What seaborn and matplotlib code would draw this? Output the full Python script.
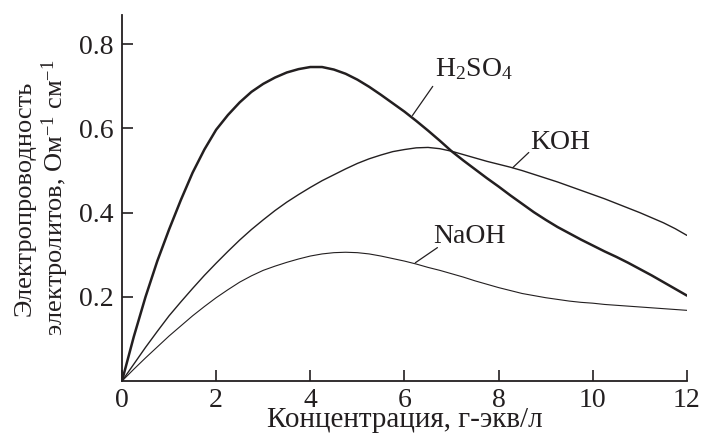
import numpy as np
import matplotlib
matplotlib.use("Agg")
import matplotlib.pyplot as plt
import pandas as pd
import seaborn as sns

# concentration, g-eq/l (step 0.25)
conc = [i * 0.25 for i in range(49)]

# conductivity values
h2so4 = [0, 0.105, 0.20, 0.285, 0.36, 0.43, 0.495, 0.55, 0.597, 0.632, 0.662, 0.687, 0.706,
         0.721, 0.733, 0.741, 0.746,
         0.746, 0.74, 0.73, 0.716, 0.699, 0.68, 0.66, 0.64, 0.618, 0.595, 0.571, 0.546,
         0.524, 0.503, 0.482, 0.462,
         0.441, 0.421, 0.401, 0.383, 0.366, 0.351, 0.336, 0.322, 0.308, 0.295, 0.281, 0.266,
         0.251, 0.235, 0.219, 0.203]
koh = [0, 0.04, 0.08, 0.118, 0.155, 0.188, 0.22, 0.251, 0.28, 0.308, 0.335, 0.36, 0.383,
       0.405, 0.425, 0.443, 0.46,
       0.476, 0.49, 0.504, 0.517, 0.528, 0.537, 0.545, 0.55, 0.554, 0.555, 0.552, 0.546,
       0.538, 0.53, 0.522, 0.515,
       0.508, 0.50, 0.491, 0.482, 0.473, 0.463, 0.453, 0.443, 0.433, 0.422, 0.411, 0.40,
       0.388, 0.376, 0.362, 0.346]
naoh = [0, 0.028, 0.055, 0.081, 0.107, 0.131, 0.155, 0.177, 0.198, 0.217, 0.235, 0.25, 0.263,
        0.273, 0.282, 0.29, 0.297,
        0.302, 0.305, 0.306, 0.305, 0.302, 0.297, 0.291, 0.285, 0.278, 0.27, 0.263, 0.255,
        0.247, 0.238, 0.23, 0.222,
        0.215, 0.208, 0.203, 0.198, 0.194, 0.19, 0.187, 0.185, 0.182, 0.18, 0.178, 0.176,
        0.174, 0.172, 0.17, 0.168]

xticks = [0, 2, 4, 6, 8, 10, 12]
yticks = [0.2, 0.4, 0.6, 0.8]

sns.set_style("ticks")
plt.rcParams['font.family'] = ['Liberation Serif', 'DejaVu Serif']
plt.rcParams['mathtext.fontset'] = 'custom'
plt.rcParams['mathtext.rm'] = 'Liberation Serif'
plt.rcParams['mathtext.it'] = 'Liberation Serif:italic'

ink = '#231f20'
fs = 20

fig = plt.figure(figsize=(7.01, 4.36), dpi=100)
ax = fig.add_axes([0.174, 0.126, 0.806, 0.84])

sns.lineplot(x=conc, y=h2so4, ax=ax, color=ink, lw=1.8)
sns.lineplot(x=conc, y=koh, ax=ax, color=ink, lw=1.0)
sns.lineplot(x=conc, y=naoh, ax=ax, color=ink, lw=0.8)

ax.set_xlim(0, 12)
ax.set_ylim(0, 0.87)
ax.set_xticks(xticks)
ax.set_yticks(yticks)
ax.set_xticklabels([str(t) for t in xticks])
ax.set_yticklabels([f"{t:.1f}" for t in yticks])
ax.tick_params(direction='in', length=8, width=1.2, colors=ink, labelsize=fs, pad=6)
ax.tick_params(axis='x', pad=5)
for s in ['top', 'right']:
    ax.spines[s].set_visible(False)
for s in ['left', 'bottom']:
    ax.spines[s].set_linewidth(1.3)
    ax.spines[s].set_color(ink)

ax.set_xlabel("Концентрация, г-экв/л", fontsize=21, color=ink, labelpad=-4)
ax.set_ylabel("Электропроводность\nэлектролитов, Ом$^{-1}$ см$^{-1}$",
              fontsize=19, color=ink, labelpad=6, linespacing=1.15)

# curve labels with leader lines
ax.plot([6.17, 6.6], [0.631, 0.70], color=ink, lw=0.9)
ax.text(6.65, 0.74, "H$_2$SO$_4$", fontsize=fs, color=ink, va='center', ha='left')
ax.plot([8.3, 8.64], [0.507, 0.543], color=ink, lw=0.9)
ax.text(8.68, 0.567, "KOH", fontsize=fs, color=ink, va='center', ha='left')
ax.plot([6.23, 6.7], [0.281, 0.317], color=ink, lw=0.9)
ax.text(6.62, 0.343, "NaOH", fontsize=fs, color=ink, va='center', ha='left')

fig.savefig("out.png", dpi=100)
